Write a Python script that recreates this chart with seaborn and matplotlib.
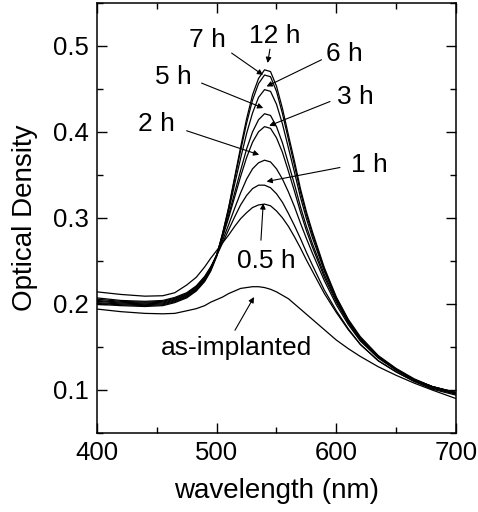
import numpy as np
import pandas as pd
import matplotlib
matplotlib.use("Agg")
import matplotlib.pyplot as plt
import seaborn as sns
from matplotlib.ticker import MultipleLocator

wavelength = [400, 420, 440, 455, 465, 475, 483, 490, 495, 500, 505, 510, 515, 520, 525,
              530, 535, 540, 545, 550, 555, 560, 565, 570, 575, 580, 590, 600, 610, 620,
              635, 650, 665, 680, 700]

od_as_implanted = [0.194, 0.191, 0.189, 0.1885, 0.189, 0.192, 0.1945, 0.198, 0.202,
                   0.205, 0.208, 0.212, 0.215, 0.218, 0.219, 0.220, 0.220, 0.219, 0.217,
                   0.214, 0.210, 0.206, 0.200, 0.194, 0.188, 0.182, 0.170, 0.158, 0.148,
                   0.139, 0.127, 0.117, 0.108, 0.100, 0.090]
od_0_5h = [0.214, 0.211, 0.209, 0.2095, 0.213, 0.222, 0.231, 0.243, 0.253,
           0.262, 0.271, 0.280, 0.290, 0.299, 0.306, 0.312, 0.315, 0.316, 0.314,
           0.308, 0.300, 0.290, 0.278, 0.265, 0.251, 0.238, 0.212, 0.190, 0.170,
           0.153, 0.134, 0.121, 0.110, 0.101, 0.094]
od_1h = [0.207, 0.204, 0.203, 0.204, 0.2075, 0.213, 0.221, 0.232, 0.243,
         0.256, 0.271, 0.286, 0.301, 0.315, 0.326, 0.334, 0.338, 0.338, 0.335,
         0.328, 0.318, 0.305, 0.291, 0.276, 0.260, 0.245, 0.216, 0.192, 0.171,
         0.153, 0.134, 0.121, 0.110, 0.102, 0.095]
od_2h = [0.2055, 0.203, 0.202, 0.203, 0.2065, 0.212, 0.220, 0.231, 0.242,
         0.256, 0.274, 0.292, 0.311, 0.329, 0.345, 0.357, 0.364, 0.367, 0.365,
         0.357, 0.345, 0.330, 0.313, 0.294, 0.276, 0.259, 0.227, 0.199, 0.176,
         0.157, 0.137, 0.123, 0.111, 0.103, 0.096]
od_3h = [0.204, 0.202, 0.201, 0.202, 0.2055, 0.211, 0.219, 0.230, 0.242,
         0.257, 0.278, 0.300, 0.324, 0.348, 0.370, 0.388, 0.400, 0.406, 0.404,
         0.393, 0.376, 0.354, 0.331, 0.307, 0.285, 0.266, 0.231, 0.202, 0.178,
         0.158, 0.138, 0.123, 0.112, 0.104, 0.097]
od_5h = [0.203, 0.201, 0.200, 0.201, 0.2045, 0.210, 0.218, 0.229, 0.241,
         0.257, 0.279, 0.303, 0.329, 0.355, 0.380, 0.400, 0.414, 0.421, 0.419,
         0.406, 0.387, 0.363, 0.339, 0.313, 0.290, 0.270, 0.234, 0.204, 0.179,
         0.159, 0.139, 0.124, 0.112, 0.104, 0.097]
od_6h = [0.2015, 0.200, 0.199, 0.200, 0.2035, 0.209, 0.217, 0.228, 0.240,
         0.257, 0.281, 0.308, 0.339, 0.369, 0.398, 0.422, 0.440, 0.449, 0.447,
         0.432, 0.409, 0.381, 0.353, 0.324, 0.299, 0.277, 0.238, 0.206, 0.180,
         0.160, 0.139, 0.124, 0.112, 0.104, 0.097]
od_7h = [0.2005, 0.199, 0.198, 0.199, 0.2025, 0.208, 0.216, 0.227, 0.239,
         0.256, 0.282, 0.311, 0.345, 0.378, 0.410, 0.437, 0.456, 0.466, 0.464,
         0.447, 0.421, 0.391, 0.361, 0.330, 0.304, 0.281, 0.240, 0.207, 0.181,
         0.161, 0.139, 0.124, 0.112, 0.104, 0.096]
od_12h = [0.1995, 0.198, 0.197, 0.198, 0.2015, 0.207, 0.215, 0.226, 0.238,
          0.255, 0.282, 0.312, 0.347, 0.382, 0.415, 0.443, 0.462, 0.472, 0.470,
          0.453, 0.427, 0.396, 0.366, 0.334, 0.307, 0.284, 0.242, 0.208, 0.182,
          0.162, 0.140, 0.125, 0.113, 0.104, 0.096]

series_names = ["as-implanted", "0.5 h", "1 h", "2 h", "3 h", "5 h", "6 h", "7 h", "12 h"]
series_values = [od_as_implanted, od_0_5h, od_1h, od_2h, od_3h, od_5h, od_6h, od_7h, od_12h]

# label text, text position (wl, od), arrow start and tip (wl, od)
label_text = ["7 h", "12 h", "6 h", "5 h", "3 h", "2 h", "1 h", "0.5 h", "as-implanted"]
label_xy = [(491.9, 0.507), (548.7, 0.5116), (607.0, 0.4907), (463.5, 0.464),
            (615.5, 0.4407), (449.3, 0.4093), (627.2, 0.3616), (541.2, 0.2497),
            (516.5, 0.1483)]
arrow_start = [(512.5, 0.4915), (544.5, 0.496), (587.6, 0.4837), (487.4, 0.4566),
               (594.7, 0.4352), (474.9, 0.4012), (603.0, 0.3585), (537.0, 0.274),
               (515.3, 0.1694)]
arrow_tip = [(538.7, 0.466), (542.6, 0.480), (541.7, 0.4527), (538.9, 0.4276),
             (543.9, 0.4070), (535.5, 0.3733), (541.7, 0.3422), (538.9, 0.3168),
             (531.2, 0.208)]

rows = []
for name, vals in zip(series_names, series_values):
    for w, v in zip(wavelength, vals):
        rows.append({"wavelength": w, "od": v, "sample": name})
df = pd.DataFrame(rows)

sns.set_style("ticks")
plt.rcParams["font.family"] = ["Liberation Sans", "DejaVu Sans"]
plt.rcParams["text.color"] = "black"
plt.rcParams["axes.labelcolor"] = "black"

fig = plt.figure(figsize=(4.78, 5.12), dpi=100)
ax = fig.add_axes([0.2029, 0.1543, 0.7511, 0.8404])

sns.lineplot(data=df, x="wavelength", y="od", hue="sample",
             palette=["black"] * len(series_names), legend=False,
             linewidth=0.9, ax=ax, estimator=None, sort=True)

ax.set_xlim(400, 700)
ax.set_ylim(0.05, 0.55)
ax.xaxis.set_major_locator(MultipleLocator(100))
ax.xaxis.set_minor_locator(MultipleLocator(50))
ax.yaxis.set_minor_locator(MultipleLocator(0.05))
ax.set_yticks([0.1, 0.2, 0.3, 0.4, 0.5])
ax.set_yticklabels(["0.1", "0.2", "0.3", "0.4", "0.5"])
ax.tick_params(which="both", direction="in", top=True, right=True,
               labelsize=18.5, colors="black", width=1.0)
ax.tick_params(which="major", length=7, pad=6)
ax.tick_params(which="minor", length=4)
for sp in ax.spines.values():
    sp.set_linewidth(1.1)
    sp.set_color("black")
    sp.set_visible(True)

ax.set_xlabel("wavelength (nm)", fontsize=20, labelpad=9, color="black")
ax.set_ylabel("Optical Density", fontsize=20, labelpad=11, color="black")

for txt, pos, st, tip in zip(label_text, label_xy, arrow_start, arrow_tip):
    ax.text(pos[0], pos[1], txt, fontsize=19, ha="center", va="center", color="black")
    ax.annotate("", xy=tip, xytext=st,
                arrowprops=dict(arrowstyle="-|>", color="black", lw=0.8,
                                mutation_scale=8, shrinkA=0, shrinkB=0))

fig.savefig("out.png", dpi=100)
